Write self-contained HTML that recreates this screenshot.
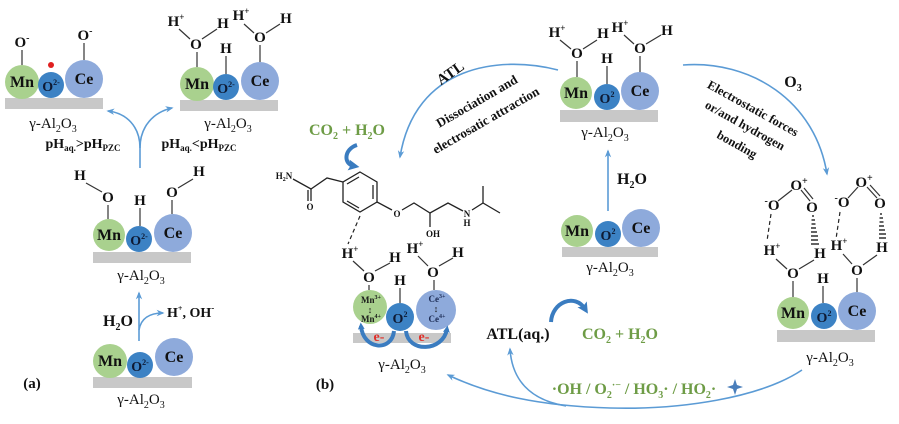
<!DOCTYPE html>
<html><head><meta charset="utf-8"><style>
html,body{margin:0;padding:0;background:#fff}
svg{display:block}
text{font-family:"Liberation Serif",serif;fill:#111}
.el{font-weight:bold;font-size:16px;text-anchor:middle}
.o2{font-weight:bold;font-size:14px;text-anchor:middle;fill:#0e1a33}
.h{font-weight:bold;font-size:15px;text-anchor:middle}
.al{font-size:15px;text-anchor:middle}
.b{font-weight:bold}
.g{fill:#6e9c46;font-weight:bold}
.bd{stroke:#333;stroke-width:1.2}
.ar{stroke:#5b9bd5;stroke-width:1.6;fill:none}
.tk{stroke:#3a7cc0;stroke-width:4;fill:none}
.m{font-weight:bold;font-size:9px;text-anchor:middle;fill:#1a1a1a}
.mol{stroke:#222;stroke-width:1.3;fill:none}
.mt{font-weight:bold;font-size:9px;text-anchor:middle}
.red{fill:#e0302a;font-weight:bold;font-size:14px;text-anchor:middle}
</style></head><body>
<svg width="899" height="424" viewBox="0 0 899 424" xmlns="http://www.w3.org/2000/svg">
<defs>
<marker id="a" viewBox="0 0 10 10" refX="8" refY="5" markerWidth="8" markerHeight="8" markerUnits="userSpaceOnUse" orient="auto"><path d="M0,1 L10,5 L0,9 L3,5 z" fill="#5b9bd5"/></marker>
<marker id="t" viewBox="0 0 10 10" refX="5" refY="5" markerWidth="11" markerHeight="11" markerUnits="userSpaceOnUse" orient="auto"><path d="M0,0 L10,5 L0,10 L2,5 z" fill="#3a7cc0"/></marker>
<marker id="s" viewBox="0 0 10 10" refX="5" refY="5" markerWidth="7" markerHeight="7" markerUnits="userSpaceOnUse" orient="auto"><path d="M0,0 L10,5 L0,10 L2,5 z" fill="#3a7cc0"/></marker>
</defs>
<rect width="899" height="424" fill="#fff"/>

<!-- ===== Panel (a) ===== -->
<g transform="translate(5,98)">
<rect x="0" y="0" width="98" height="11" fill="#c8c8c8"/>
<circle cx="17" cy="-16" r="17" fill="#a9d18e"/>
<circle cx="46" cy="-13" r="13" fill="#3c82c4"/>
<circle cx="79" cy="-19" r="19" fill="#8eaadb"/>
<text x="17" y="-11" class="el">Mn</text>
<text x="46" y="-7" class="o2">O<tspan font-size="8" dy="-6">2-</tspan></text>
<text x="79" y="-14" class="el">Ce</text>
<text x="48" y="30" class="al">γ-Al<tspan font-size="10" dy="4">2</tspan><tspan dy="-4">O</tspan><tspan font-size="10" dy="4">3</tspan></text>
<text x="17" y="-51" class="h">O<tspan font-size="10" dy="-6">-</tspan></text>
<line class="bd" x1="17" y1="-48" x2="17" y2="-33"/>
<text x="80" y="-58" class="h">O<tspan font-size="10" dy="-6">-</tspan></text>
<line class="bd" x1="79" y1="-55" x2="79" y2="-38"/>
<circle cx="46" cy="-33" r="3" fill="#e02020"/>
</g>

<g transform="translate(180,100)">
<rect x="0" y="0" width="98" height="11" fill="#c8c8c8"/>
<circle cx="17" cy="-16" r="17" fill="#a9d18e"/>
<circle cx="46" cy="-13" r="13" fill="#3c82c4"/>
<circle cx="80" cy="-19" r="19" fill="#8eaadb"/>
<text x="17" y="-11" class="el">Mn</text>
<text x="46" y="-7" class="o2">O<tspan font-size="8" dy="-6">2-</tspan></text>
<text x="80" y="-14" class="el">Ce</text>
<text x="48" y="28" class="al">γ-Al<tspan font-size="10" dy="4">2</tspan><tspan dy="-4">O</tspan><tspan font-size="10" dy="4">3</tspan></text>
<text x="16" y="-51" class="h">O</text>
<line class="bd" x1="17" y1="-48" x2="17" y2="-33"/>
<text x="-4" y="-74" class="h">H<tspan font-size="9" dy="-6">+</tspan></text>
<text x="43" y="-72" class="h">H</text>
<line class="bd" x1="-1" y1="-71" x2="10" y2="-61"/>
<line class="bd" x1="22" y1="-61" x2="37" y2="-71"/>
<text x="46" y="-47" class="h">H</text>
<line class="bd" x1="46" y1="-44" x2="46" y2="-26"/>
<text x="80" y="-58" class="h">O</text>
<line class="bd" x1="80" y1="-55" x2="80" y2="-38"/>
<text x="61" y="-80" class="h">H<tspan font-size="9" dy="-6">+</tspan></text>
<text x="106" y="-77" class="h">H</text>
<line class="bd" x1="64" y1="-76" x2="74" y2="-67"/>
<line class="bd" x1="86" y1="-67" x2="100" y2="-76"/>
</g>

<path class="ar" d="M140,168 L140,148 C140,126 126,113 108,111" marker-end="url(#a)"/>
<path class="ar" d="M140,148 C140,126 154,112 172,108" marker-end="url(#a)"/>
<text x="83" y="148" class="b" font-size="14" text-anchor="middle">pH<tspan font-size="9" dy="3">aq.</tspan><tspan dy="-3">&gt;pH</tspan><tspan font-size="9" dy="3">PZC</tspan></text>
<text x="199" y="148" class="b" font-size="14" text-anchor="middle">pH<tspan font-size="9" dy="3">aq.</tspan><tspan dy="-3">&lt;pH</tspan><tspan font-size="9" dy="3">PZC</tspan></text>

<g transform="translate(93,252)">
<rect x="0" y="0" width="98" height="11" fill="#c8c8c8"/>
<circle cx="16" cy="-17" r="16" fill="#a9d18e"/>
<circle cx="46" cy="-13" r="13" fill="#3c82c4"/>
<circle cx="80" cy="-19" r="19" fill="#8eaadb"/>
<text x="16" y="-12" class="el">Mn</text>
<text x="46" y="-7" class="o2">O<tspan font-size="8" dy="-6">2-</tspan></text>
<text x="80" y="-14" class="el">Ce</text>
<text x="48" y="28" class="al">γ-Al<tspan font-size="10" dy="4">2</tspan><tspan dy="-4">O</tspan><tspan font-size="10" dy="4">3</tspan></text>
<text x="15" y="-50" class="h">O</text>
<line class="bd" x1="15" y1="-47" x2="15" y2="-33"/>
<text x="-13" y="-72" class="h">H</text>
<line class="bd" x1="-7" y1="-69" x2="9" y2="-60"/>
<text x="47" y="-47" class="h">H</text>
<line class="bd" x1="47" y1="-44" x2="47" y2="-26"/>
<text x="79" y="-55" class="h">O</text>
<line class="bd" x1="79" y1="-52" x2="79" y2="-38"/>
<text x="106" y="-76" class="h">H</text>
<line class="bd" x1="85" y1="-64" x2="100" y2="-73"/>
</g>

<path class="ar" d="M139,341 L139,293" marker-end="url(#a)"/>
<path class="ar" d="M139,330 C141,318 150,313 163,313" marker-end="url(#a)"/>
<text x="118" y="326" class="b" font-size="16" text-anchor="middle">H<tspan font-size="10" dy="4">2</tspan><tspan dy="-4">O</tspan></text>
<text x="167" y="317" class="b" font-size="14">H<tspan font-size="8" dy="-6">+</tspan><tspan dy="6">, OH</tspan><tspan font-size="9" dy="-6">-</tspan></text>
<g transform="translate(93,377)">
<rect x="0" y="0" width="99" height="11" fill="#c8c8c8"/>
<circle cx="17" cy="-16" r="17" fill="#a9d18e"/>
<circle cx="47" cy="-12" r="13" fill="#3c82c4"/>
<circle cx="81" cy="-20" r="19" fill="#8eaadb"/>
<text x="17" y="-11" class="el">Mn</text>
<text x="47" y="-6" class="o2">O<tspan font-size="8" dy="-6">2-</tspan></text>
<text x="81" y="-15" class="el">Ce</text>
<text x="48" y="27" class="al">γ-Al<tspan font-size="10" dy="4">2</tspan><tspan dy="-4">O</tspan><tspan font-size="10" dy="4">3</tspan></text>
</g>
<text x="32" y="388" class="b" font-size="15" text-anchor="middle">(a)</text>

<!-- ===== Panel (b) ===== -->
<g transform="translate(560,110)">
<rect x="0" y="0" width="98" height="12" fill="#c8c8c8"/>
<circle cx="16" cy="-17" r="16" fill="#a9d18e"/>
<circle cx="47" cy="-13" r="13" fill="#3c82c4"/>
<circle cx="80" cy="-19" r="19" fill="#8eaadb"/>
<text x="16" y="-12" class="el">Mn</text>
<text x="47" y="-7" class="o2">O<tspan font-size="8" dy="-6">2</tspan></text>
<text x="80" y="-14" class="el">Ce</text>
<text x="45" y="27" class="al">γ-Al<tspan font-size="10" dy="4">2</tspan><tspan dy="-4">O</tspan><tspan font-size="10" dy="4">3</tspan></text>
<text x="17" y="-52" class="h">O</text>
<line class="bd" x1="17" y1="-49" x2="17" y2="-33"/>
<text x="-3" y="-73" class="h">H<tspan font-size="9" dy="-6">+</tspan></text>
<text x="43" y="-72" class="h">H</text>
<line class="bd" x1="0" y1="-70" x2="11" y2="-61"/>
<line class="bd" x1="23" y1="-61" x2="37" y2="-70"/>
<text x="47" y="-47" class="h">H</text>
<line class="bd" x1="47" y1="-44" x2="47" y2="-26"/>
<text x="80" y="-57" class="h">O</text>
<line class="bd" x1="80" y1="-54" x2="80" y2="-38"/>
<text x="60" y="-78" class="h">H<tspan font-size="9" dy="-6">+</tspan></text>
<text x="107" y="-75" class="h">H</text>
<line class="bd" x1="64" y1="-75" x2="74" y2="-66"/>
<line class="bd" x1="86" y1="-66" x2="101" y2="-75"/>
</g>

<path class="ar" d="M608,211 L608,151" marker-end="url(#a)"/>
<text x="632" y="184" class="b" font-size="16" text-anchor="middle">H<tspan font-size="10" dy="4">2</tspan><tspan dy="-4">O</tspan></text>
<g transform="translate(562,247)">
<rect x="0" y="0" width="96" height="10" fill="#c8c8c8"/>
<circle cx="15" cy="-16" r="16" fill="#a9d18e"/>
<circle cx="46" cy="-13" r="13" fill="#3c82c4"/>
<circle cx="79" cy="-19" r="19" fill="#8eaadb"/>
<text x="15" y="-11" class="el">Mn</text>
<text x="46" y="-7" class="o2">O<tspan font-size="8" dy="-6">2</tspan></text>
<text x="79" y="-14" class="el">Ce</text>
<text x="48" y="25" class="al">γ-Al<tspan font-size="10" dy="4">2</tspan><tspan dy="-4">O</tspan><tspan font-size="10" dy="4">3</tspan></text>
</g>

<g transform="translate(777,330)">
<rect x="0" y="0" width="98" height="12" fill="#c8c8c8"/>
<circle cx="16" cy="-17" r="16" fill="#a9d18e"/>
<circle cx="47" cy="-14" r="13" fill="#3c82c4"/>
<circle cx="80" cy="-19" r="19" fill="#8eaadb"/>
<text x="16" y="-12" class="el">Mn</text>
<text x="47" y="-8" class="o2">O<tspan font-size="8" dy="-6">2</tspan></text>
<text x="80" y="-14" class="el">Ce</text>
<text x="53" y="32" class="al">γ-Al<tspan font-size="10" dy="4">2</tspan><tspan dy="-4">O</tspan><tspan font-size="10" dy="4">3</tspan></text>
<text x="16" y="-52" class="h">O</text>
<line class="bd" x1="16" y1="-49" x2="16" y2="-33"/>
<text x="-5" y="-75" class="h">H<tspan font-size="9" dy="-6">+</tspan></text>
<text x="43" y="-72" class="h">H</text>
<line class="bd" x1="-1" y1="-71" x2="10" y2="-61"/>
<line class="bd" x1="22" y1="-61" x2="37" y2="-70"/>
<text x="46" y="-47" class="h">H</text>
<line class="bd" x1="46" y1="-44" x2="46" y2="-27"/>
<text x="80" y="-55" class="h">O</text>
<line class="bd" x1="80" y1="-52" x2="80" y2="-38"/>
<text x="62" y="-80" class="h">H<tspan font-size="9" dy="-6">+</tspan></text>
<text x="105" y="-78" class="h">H</text>
<line class="bd" x1="66" y1="-76" x2="75" y2="-66"/>
<line class="bd" x1="86" y1="-65" x2="100" y2="-75"/>
</g>

<!-- ozone molecules -->
<text x="772" y="210" class="h" font-size="14"><tspan font-size="10" dy="-6">-</tspan><tspan dy="6">O</tspan></text>
<text x="799" y="190" class="h" font-size="14">O<tspan font-size="10" dy="-6">+</tspan></text>
<text x="812" y="212" class="h" font-size="14">O</text>
<line class="bd" x1="778" y1="201" x2="792" y2="190"/>
<line class="bd" x1="801" y1="190" x2="810" y2="201"/>
<line class="bd" x1="804" y1="188" x2="813" y2="199"/>
<line stroke="#222" stroke-width="1.2" stroke-dasharray="4,3" x1="771" y1="214" x2="767" y2="241"/>
<g stroke="#222" stroke-width="1.4">
<line x1="812" y1="216" x2="814" y2="216"/><line x1="811.5" y1="220" x2="815" y2="220"/>
<line x1="811.5" y1="224" x2="815.5" y2="224"/><line x1="811" y1="228" x2="816" y2="228"/>
<line x1="811" y1="232" x2="817" y2="232"/><line x1="811" y1="236" x2="818" y2="236"/>
<line x1="811" y1="240" x2="818" y2="240"/><line x1="811" y1="244" x2="819" y2="244"/>
</g>
<text x="842" y="207" class="h" font-size="14"><tspan font-size="10" dy="-6">-</tspan><tspan dy="6">O</tspan></text>
<text x="864" y="187" class="h" font-size="14">O<tspan font-size="10" dy="-6">+</tspan></text>
<text x="880" y="208" class="h" font-size="14">O</text>
<line class="bd" x1="848" y1="198" x2="858" y2="187"/>
<line class="bd" x1="867" y1="187" x2="877" y2="198"/>
<line class="bd" x1="870" y1="185" x2="880" y2="196"/>
<line stroke="#222" stroke-width="1.2" stroke-dasharray="4,3" x1="840" y1="212" x2="836" y2="239"/>
<g stroke="#222" stroke-width="1.4">
<line x1="880" y1="214" x2="882" y2="214"/><line x1="879.5" y1="218" x2="883" y2="218"/>
<line x1="879.5" y1="222" x2="883.5" y2="222"/><line x1="879" y1="226" x2="884" y2="226"/>
<line x1="879" y1="230" x2="885" y2="230"/><line x1="879" y1="234" x2="886" y2="234"/>
<line x1="879" y1="238" x2="886" y2="238"/>
</g>

<!-- left unit of (b) -->
<rect x="353" y="333" width="98" height="10" fill="#c8c8c8"/>
<circle cx="370" cy="307" r="17" fill="#a9d18e"/>
<circle cx="400" cy="317" r="14" fill="#3c82c4"/>
<circle cx="436" cy="310" r="20" fill="#8eaadb"/>
<text x="371" y="303" class="m">Mn<tspan font-size="6" dy="-4">3+</tspan></text>
<text x="370" y="313" class="m" font-size="10">↕</text>
<text x="371" y="322" class="m">Mn<tspan font-size="6" dy="-4">4+</tspan></text>
<text x="437" y="302" class="m" style="fill:#1c2c55">Ce<tspan font-size="6" dy="-4">3+</tspan></text>
<text x="436" y="312" class="m" font-size="10">↕</text>
<text x="437" y="322" class="m" style="fill:#1c2c55">Ce<tspan font-size="6" dy="-4">4+</tspan></text>
<text x="400" y="323" class="o2">O<tspan font-size="8" dy="-6">2</tspan></text>
<path class="tk" stroke-width="2.6" d="M394,331 C392,352 363,350 361,326" marker-end="url(#s)"/>
<path class="tk" stroke-width="2.6" d="M406,331 C408,353 443,352 447,329" marker-end="url(#s)"/>
<text x="379" y="341" class="red">e-</text>
<text x="424" y="341" class="red">e-</text>
<text x="369" y="282" class="h">O</text>
<line class="bd" x1="369" y1="285" x2="369" y2="290"/>
<text x="350" y="258" class="h">H<tspan font-size="9" dy="-6">+</tspan></text>
<text x="395" y="262" class="h">H</text>
<line class="bd" x1="353" y1="261" x2="364" y2="271"/>
<line class="bd" x1="375" y1="271" x2="390" y2="263"/>
<text x="400" y="285" class="h">H</text>
<line class="bd" x1="400" y1="288" x2="400" y2="303"/>
<text x="433" y="277" class="h">O</text>
<line class="bd" x1="434" y1="280" x2="434" y2="290"/>
<text x="415" y="253" class="h">H<tspan font-size="9" dy="-6">+</tspan></text>
<text x="458" y="257" class="h">H</text>
<line class="bd" x1="418" y1="256" x2="428" y2="266"/>
<line class="bd" x1="439" y1="266" x2="453" y2="258"/>
<text x="402" y="369" class="al">γ-Al<tspan font-size="10" dy="4">2</tspan><tspan dy="-4">O</tspan><tspan font-size="10" dy="4">3</tspan></text>
<text x="325" y="389" class="b" font-size="15" text-anchor="middle">(b)</text>

<!-- atenolol molecule -->
<text x="284" y="179" class="mt" font-size="8">H<tspan font-size="6" dy="2">2</tspan><tspan dy="-2">N</tspan></text>
<path class="mol" d="M293,179 L311,189 L327,178 L343,182"/>
<line class="mol" x1="311" y1="189" x2="311" y2="201"/>
<line class="mol" x1="308" y1="190" x2="308" y2="201"/>
<text x="310" y="210" class="mt">O</text>
<path class="mol" d="M360,172 L377,182 L377,202 L360,212 L343,202 L343,182 Z"/>
<line class="mol" x1="373" y1="185" x2="373" y2="199"/>
<line class="mol" x1="359" y1="208" x2="347" y2="201"/>
<line class="mol" x1="347" y1="184" x2="359" y2="177"/>
<line class="mol" x1="377" y1="202" x2="392" y2="210"/>
<text x="397" y="217" class="mt">O</text>
<path class="mol" d="M402,210 L414,203 L430,213 L448,203 L463,211"/>
<line class="mol" x1="430" y1="213" x2="430" y2="227"/>
<text x="433" y="237" class="mt">OH</text>
<text x="467" y="217" class="mt">N</text>
<text x="467" y="226" class="mt" font-size="7">H</text>
<path class="mol" d="M472,210 L483,203 L500,213"/>
<line class="mol" x1="483" y1="203" x2="483" y2="186"/>
<line stroke="#222" stroke-width="1.2" stroke-dasharray="4,3" x1="360" y1="216" x2="348" y2="244"/>

<!-- CO2 + H2O top left of (b) -->
<text x="347" y="135" class="g" font-size="16" text-anchor="middle">CO<tspan font-size="10" dy="4">2</tspan><tspan dy="-4"> + H</tspan><tspan font-size="10" dy="4">2</tspan><tspan dy="-4">O</tspan></text>
<path class="tk" d="M357,145 C344,149 343,164 354,166" marker-end="url(#t)"/>

<!-- ATL arc -->
<path class="ar" d="M558,70 C500,55 415,65 400,157" marker-end="url(#a)"/>
<text transform="translate(453,77) rotate(-35)" class="b" font-size="15" text-anchor="middle">ATL</text>
<text transform="translate(479,105) rotate(-30)" class="b" font-size="13" text-anchor="middle">Dissociation and</text>
<text transform="translate(488,124) rotate(-30)" class="b" font-size="13" text-anchor="middle">electrosatic attraction</text>

<!-- right arc -->
<path class="ar" d="M683,65 C750,60 815,100 827,174" marker-end="url(#a)"/>
<text x="793" y="87" class="b" font-size="16" text-anchor="middle">O<tspan font-size="10" dy="4">3</tspan></text>
<text transform="translate(751,112) rotate(29)" class="b" font-size="12.5" text-anchor="middle">Electrostatic forces</text>
<text transform="translate(743,129) rotate(29)" class="b" font-size="12.5" text-anchor="middle">or/and hydrogen</text>
<text transform="translate(735,148) rotate(29)" class="b" font-size="12.5" text-anchor="middle">bonding</text>

<!-- bottom arcs -->
<path class="ar" d="M802,370 C760,398 680,410 610,408 C540,406 490,395 448,375" marker-end="url(#a)"/>
<path class="ar" d="M566,406 C530,400 512,380 510,349" marker-end="url(#a)"/>
<text x="518" y="339" class="b" font-size="16" text-anchor="middle">ATL(aq.)</text>
<text x="620" y="339" class="g" font-size="16" text-anchor="middle">CO<tspan font-size="10" dy="4">2</tspan><tspan dy="-4"> + H</tspan><tspan font-size="10" dy="4">2</tspan><tspan dy="-4">O</tspan></text>
<path class="tk" d="M551,322 C552,302 575,293 585,309" marker-end="url(#t)"/>
<text x="634" y="394" class="g" font-size="16" text-anchor="middle">·OH / O<tspan font-size="10" dy="4">2</tspan><tspan font-size="10" dy="-10">·−</tspan><tspan dy="6"> / HO</tspan><tspan font-size="10" dy="4">3</tspan><tspan dy="-4">· / HO</tspan><tspan font-size="10" dy="4">2</tspan><tspan dy="-4">·</tspan></text>
<path d="M735,379 L737,385 L743,387 L737,389 L735,395 L733,389 L727,387 L733,385 Z" fill="#4a7ebb"/>
</svg>
</body></html>
